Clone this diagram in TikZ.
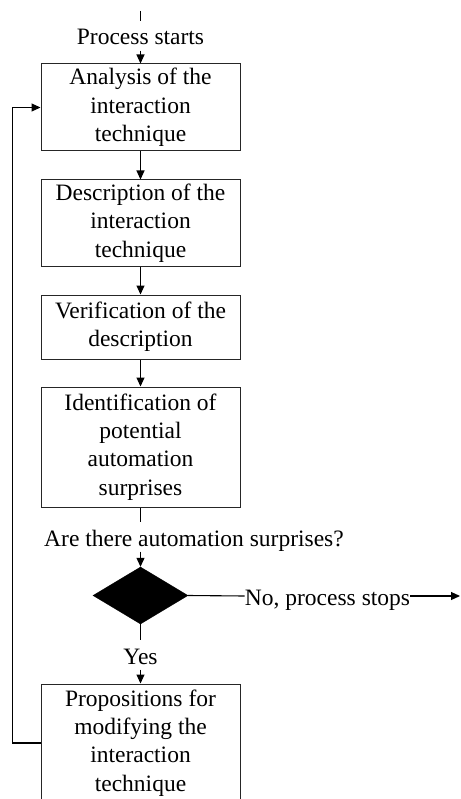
\documentclass[tikz,border=0pt]{standalone}
\usepackage{fontspec}
\setmainfont{Liberation Serif}
\usetikzlibrary{shapes.geometric,arrows.meta}
\begin{document}
\begin{tikzpicture}[x=1pt,y=-1pt,
  every node/.style={font=\fontsize{23.5}{28.3}\selectfont},
  stepbox/.style={draw=black!85,line width=1pt,minimum width=199pt,inner sep=0pt,align=center},
  lbl/.style={inner xsep=0pt,inner ysep=1.5pt,text height=22pt,text depth=4pt,anchor=base},
  conn/.style={line width=1.1pt},
  arr/.style={conn,-{Triangle[length=9pt,width=8pt]}}]
\useasboundingbox (0,0) rectangle (460,799);
\coordinate (top) at (140.5,11);
\node[lbl] (ps) at (140.5,45) {Process starts};
\node[stepbox,minimum height=87pt] (b1) at (140.5,107.5) {Analysis of the\\interaction\\technique};
\node[stepbox,minimum height=86pt] (b2) at (140.5,223) {Description of the\\interaction\\technique};
\node[stepbox,minimum height=64pt] (b3) at (140.5,327) {Verification of the\\description};
\node[stepbox,minimum height=120pt] (b4) at (140.5,447) {Identification of\\potential\\automation\\surprises};
\node[lbl] (q) at (194,546) {Are there automation surprises?};
\node[diamond,fill=black,draw=black,inner sep=0pt,minimum width=95pt,minimum height=57pt] (d) at (140.5,595.5) {};
\node[lbl] (no) at (327.5,605) {No, process stops};
\coordinate (end) at (460,596);
\node[lbl] (yes) at (140.5,664) {Yes};
\node[stepbox,minimum height=118pt] (b5) at (140.5,743) {Propositions for\\modifying the\\interaction\\technique};
\draw[conn] (top) -- (ps.north);
\draw[arr] (ps.south) -- (b1.north);
\draw[arr] (b1.south) -- (b2.north);
\draw[arr] (b2.south) -- (b3.north);
\draw[arr] (b3.south) -- (b4.north);
\draw[conn] (b4.south) -- (b4.south |- q.north);
\draw[arr] (q.south -| d.north) -- (d.north);
\draw[conn] (d.east) -- (no.west);
\draw[arr] (no.east) -- (end);
\draw[conn] (d.south) -- (yes.north);
\draw[arr] (yes.south) -- (b5.north);
\draw[arr] (b5.west) -- ++(-28,0) |- (b1.west);
\end{tikzpicture}
\end{document}
